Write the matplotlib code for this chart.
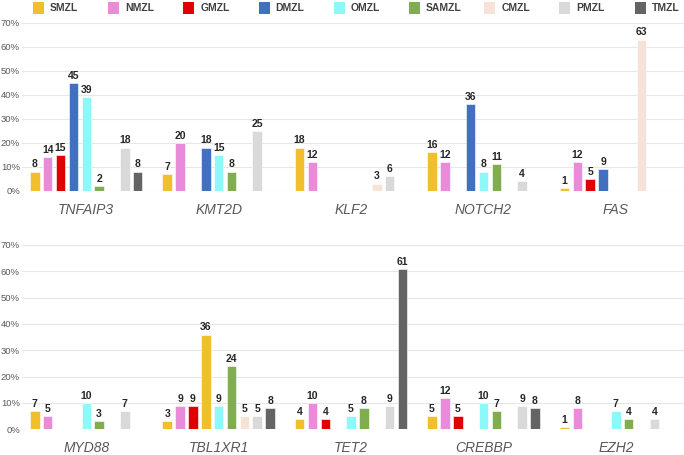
import numpy as np
import matplotlib
matplotlib.use("Agg")
import matplotlib.pyplot as plt
from matplotlib.patches import Rectangle

series = ["SMZL", "NMZL", "GMZL", "DMZL", "OMZL", "SAMZL", "CMZL", "PMZL", "TMZL"]
colors = ["#F1BF2D", "#E88BD8", "#E00000", "#4170C0", "#8CF8FA", "#80AD50",
          "#F6E3D7", "#D9D9D9", "#646464"]

top_genes = ["TNFAIP3", "KMT2D", "KLF2", "NOTCH2", "FAS"]
top_values = [
    # SMZL, NMZL, GMZL, DMZL, OMZL, SAMZL, CMZL, PMZL, TMZL
    [8, 14, 15, 45, 39, 2, None, 18, 8],
    [7, 20, None, 18, 15, 8, None, 25, None],
    [18, 12, None, None, None, None, 3, 6, None],
    [16, 12, None, 36, 8, 11, None, 4, None],
    [1, 12, 5, 9, None, None, 63, None, None],
]

bottom_genes = ["MYD88", "TBL1XR1", "TET2", "CREBBP", "EZH2"]
bottom_values = [
    [7, 5, None, None, 10, 3, None, 7, None],
    [3, 9, 9, 36, 9, 24, 5, 5, 8],
    [4, 10, 4, None, 5, 8, None, 9, 61],
    [5, 12, 5, None, 10, 7, None, 9, 8],
    [1, 8, None, None, 7, 4, None, 4, None],
]

# in the original figure the DMZL bar of TBL1XR1 is drawn in the SMZL colour
color_override = {("bottom", 1, 3): "#F1BF2D"}

yticks = [0, 10, 20, 30, 40, 50, 60, 70]

W, H = 684, 455
fig = plt.figure(figsize=(W / 100, H / 100), dpi=100)
plt.rcParams['font.family'] = ['Liberation Sans', 'DejaVu Sans']

G = 10.3  # group pitch in slot units
bar_w = 0.74

def draw_panel(ax, genes, values, tag):
    for g, row in enumerate(values):
        for s, v in enumerate(row):
            if v is None:
                continue
            x = g * G + s
            c = color_override.get((tag, g, s), colors[s])
            ax.bar(x, v, width=bar_w, color=c, edgecolor="white", linewidth=0.4, zorder=3)
            ax.annotate(str(v), (x, v), xytext=(0, 1.5), textcoords="offset points",
                        ha="center", va="bottom", fontsize=7.5, fontweight="bold",
                        color="#262626", annotation_clip=False, zorder=4)
    ax.set_xlim(-1.0, 5 * G - 1.0)
    ax.set_ylim(0, 70)
    ax.set_yticks(yticks)
    ax.set_yticklabels([f"{t}%" for t in yticks])
    ax.tick_params(axis="y", length=0, pad=1.5, labelsize=6.8, labelcolor="#595959")
    ax.set_xticks([g * G + 4 for g in range(len(genes))])
    ax.set_xticklabels(genes, fontsize=10, fontstyle="italic", color="#595959")
    ax.tick_params(axis="x", length=0, pad=8.5)
    ax.grid(axis="y", color="#E6E6E6", linewidth=0.8, zorder=0)
    ax.set_axisbelow(True)
    for sp in ax.spines.values():
        sp.set_visible(False)

def px_axes(x0, x1, ytop, ybot):
    return [x0 / W, 1 - ybot / H, (x1 - x0) / W, (ybot - ytop) / H]

ax1 = fig.add_axes(px_axes(22, 684, 22.7, 190.7))
draw_panel(ax1, top_genes, top_values, "top")
ax2 = fig.add_axes(px_axes(22, 684, 245, 429.3))
draw_panel(ax2, bottom_genes, bottom_values, "bottom")

# legend row
for i, (lab, c) in enumerate(zip(series, colors)):
    x0 = 33 + 75.2 * i
    fig.patches.append(Rectangle((x0 / W, 1 - 14 / H), 11 / W, 12 / H,
                                 transform=fig.transFigure, facecolor=c,
                                 edgecolor="none"))
    fig.text((x0 + 17) / W, 1 - 8 / H, lab, fontsize=7.5, fontweight="bold",
             color="#404040", ha="left", va="center")

fig.savefig("out.png", dpi=100)
